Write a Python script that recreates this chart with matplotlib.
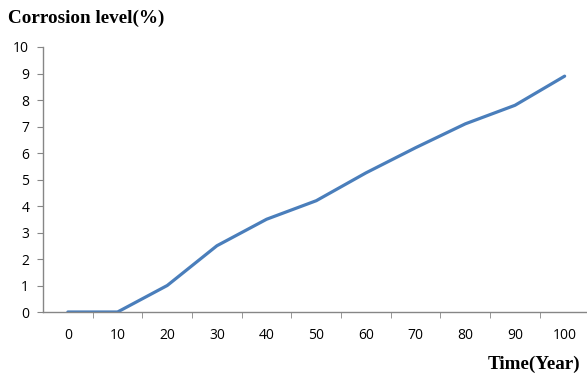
import numpy as np
import matplotlib.pyplot as plt

years = [0, 10, 20, 30, 40, 50, 60, 70, 80, 90, 100]
corrosion = [0, 0, 1.0, 2.5, 3.5, 4.2, 5.25, 6.2, 7.1, 7.8, 8.9]
y_ticks = list(range(0, 11))

fig = plt.figure(figsize=(5.87, 3.76), dpi=100)
ax = fig.add_axes([0.0733, 0.1702, 0.9267, 0.7048])

pos = np.arange(len(years))
ax.plot(pos, corrosion, color='#4a7ebb', linewidth=2.3, solid_capstyle='round')

ax.set_xlim(-0.5, 10.45)
ax.set_ylim(0, 10)

gray = '#868686'
for s in ['top', 'right']:
    ax.spines[s].set_visible(False)
for s in ['left', 'bottom']:
    ax.spines[s].set_color(gray)
    ax.spines[s].set_linewidth(1.0)

ax.set_yticks(y_ticks)
ax.set_yticklabels([str(v) for v in y_ticks], family='Open Sans', fontsize=10)
ax.tick_params(axis='y', direction='out', length=4, color=gray, pad=6)

# category labels at centres, tick marks at boundaries
ax.set_xticks(pos)
ax.set_xticklabels([str(v) for v in years], family='Open Sans', fontsize=10)
ax.tick_params(axis='x', which='major', length=0, pad=11.5)
ax.set_xticks(pos[:-1] + 0.5, minor=True)
ax.tick_params(axis='x', which='minor', direction='out', length=4, color=gray)

fig.text(0.014, 0.952, 'Corrosion level(%)', family='Liberation Serif',
         fontweight='bold', fontsize=13.8, ha='left', va='center')
fig.text(0.988, 0.031, 'Time(Year)', family='Liberation Serif',
         fontweight='bold', fontsize=13.8, ha='right', va='center')

fig.savefig('out.png', dpi=100)
